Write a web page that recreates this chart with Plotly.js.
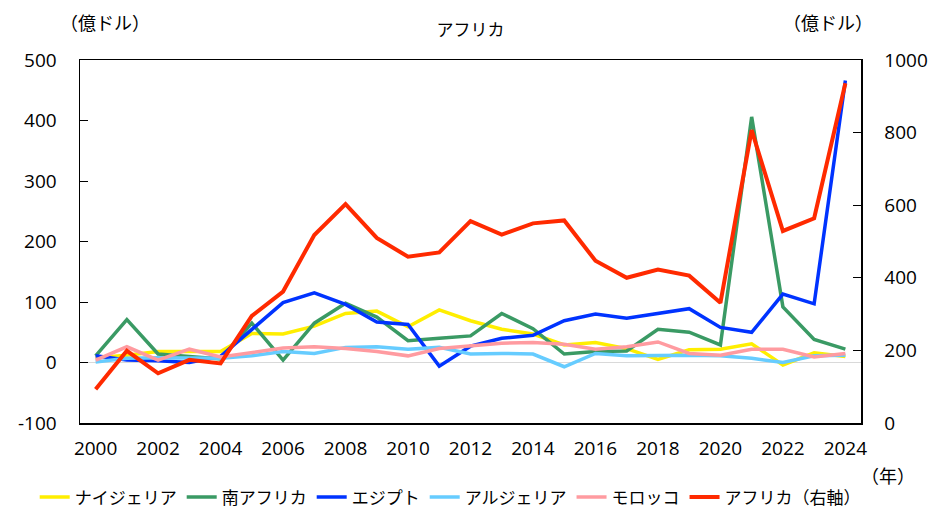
<!DOCTYPE html>
<html><head><meta charset="utf-8">
<script src="https://cdn.plot.ly/plotly-3.0.1.min.js"></script>
<style>body{margin:0;background:#fff}#c{width:939px;height:510px}</style>
</head><body><div id="c"></div>
<script>
const years = [2000,2001,2002,2003,2004,2005,2006,2007,2008,2009,2010,2011,2012,2013,2014,2015,2016,2017,2018,2019,2020,2021,2022,2023,2024];
const nigeria  = [8,12,18,18,18,48,47,60,81,85,59,87,69,55,47,29,33,23,5,21,22,31,-4,16,10];
const southAfrica = [11,71,14,10,6,65,4,65,98,75,36,40,44,81,56,14,18,19,55,50,29,406,92,38,22];
const egypt    = [11,4,3,0,10,54,99,115,96,67,63,-6,27,40,45,69,80,73,81,89,58,50,113,97,466];
const algeria  = [1,7,8,7,7,11,18,15,25,26,22,25,14,15,14,-7,15,11,12,12,11,7,0,11,12];
const morocco  = [4,26,4,22,9,16,24,26,23,18,11,23,28,32,33,30,22,26,34,15,12,22,22,9,15];
const africa   = [93,199,137,174,164,295,362,518,603,510,458,470,556,519,550,558,447,400,423,406,331,807,529,564,936];
const names = ['ナイジェリア','南アフリカ','エジプト','アルジェリア','モロッコ','アフリカ（右軸）'];
const colors = ['#ffee00','#3a9a64','#0033ff','#66ccff','#ff9ba0','#ff2a00'];
const leftTicks = [-100,0,100,200,300,400,500];
const leftTickText = ['-100','0','100','200','300','400','500'];
const rightTicks = [0,200,400,600,800,1000];
const xTicks = [2000,2002,2004,2006,2008,2010,2012,2014,2016,2018,2020,2022,2024];

const F = '"Noto Sans CJK JP","Noto Sans",sans-serif';
const FN = '"Open Sans","Noto Sans",sans-serif';
const series = [nigeria, southAfrica, egypt, algeria, morocco];
const traces = series.map((s,i)=>({x:years,y:s,type:'scatter',mode:'lines',name:names[i],
  line:{color:colors[i],width:3.5}}));
traces.push({x:years,y:africa,type:'scatter',mode:'lines',name:names[5],yaxis:'y2',
  line:{color:colors[5],width:4}});

const layout = {
  width:939,height:510,
  margin:{l:80,r:78,t:60,b:87,autoexpand:false},
  paper_bgcolor:'#fff',plot_bgcolor:'#fff',
  font:{family:F,size:17,color:'#000'},
  title:{text:'アフリカ',x:0.5,xanchor:'center',xref:'paper',y:0.941,yanchor:'middle',font:{family:F,size:17,color:'#000'}},
  showlegend:true,
  legend:{orientation:'h',x:-0.058,xanchor:'left',y:-0.205,yanchor:'middle',
    font:{family:F,size:17,color:'#000'},tracegroupgap:0,itemclick:false},
  xaxis:{range:[1999.5,2024.5],tickvals:xTicks,ticktext:xTicks.map(String),showgrid:false,zeroline:false,
    showline:true,linecolor:'#000',linewidth:1.5,mirror:true,ticks:'',ticklabelstandoff:8,tickfont:{family:FN,size:19}},
  yaxis:{range:[-100,500],tickvals:leftTicks,ticktext:leftTickText,showgrid:false,zeroline:true,zerolinecolor:'#d9d9d9',zerolinewidth:1.5,
    showline:true,linecolor:'#000',linewidth:1.5,ticks:'inside',ticklen:8,tickcolor:'#000',ticklabelstandoff:18,tickfont:{family:FN,size:19}},
  yaxis2:{range:[0,1000],tickvals:rightTicks,overlaying:'y',side:'right',showgrid:false,zeroline:false,
    showline:true,linecolor:'#000',linewidth:1.5,ticks:'inside',ticklen:8,tickcolor:'#000',ticklabelstandoff:18,tickfont:{family:FN,size:19}},
  annotations:[
    {text:'（億ドル）',xref:'paper',yref:'paper',x:0.032,y:1.105,xanchor:'center',yanchor:'middle',showarrow:false,font:{family:F,size:18}},
    {text:'（億ドル）',xref:'paper',yref:'paper',x:0.958,y:1.105,xanchor:'center',yanchor:'middle',showarrow:false,font:{family:F,size:18}},
    {text:'（年）',xref:'paper',yref:'paper',x:1.034,y:-0.143,xanchor:'center',yanchor:'middle',showarrow:false,font:{family:F,size:18}}
  ]
};
Plotly.newPlot('c',traces,layout,{staticPlot:true});
</script></body></html>
